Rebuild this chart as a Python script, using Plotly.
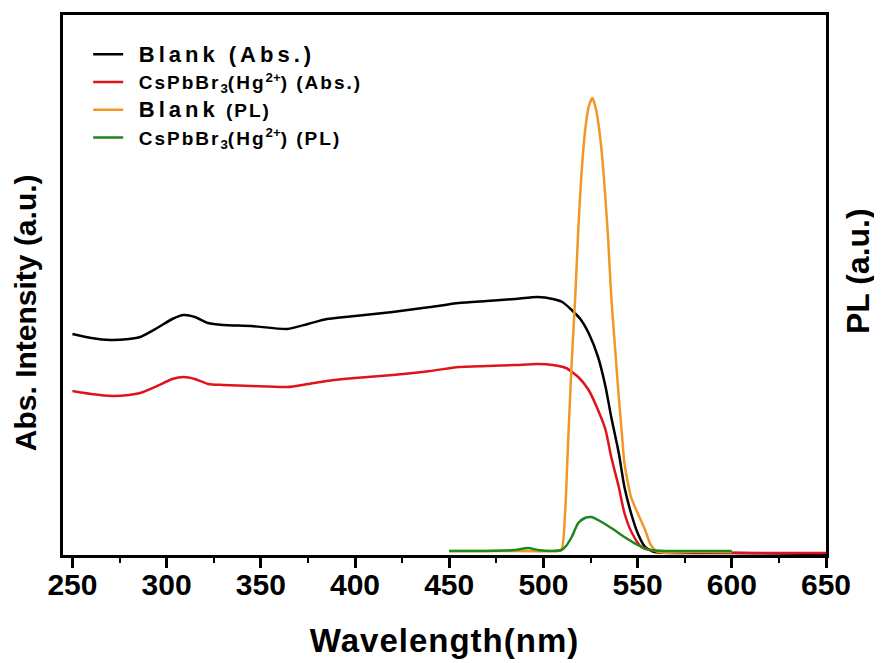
import plotly.graph_objects as go

# ---- data (arbitrary units) ----
abs_wl = [250, 260, 270, 280, 286, 295, 303, 309, 315, 322, 330, 345, 364, 375, 385, 400, 420,
          440, 455, 470, 485, 497, 505, 510, 515, 520, 524, 529, 533, 536, 540, 543, 546.5,
          550, 554, 559, 570, 600, 650]
blank_abs = [221, 217, 215, 216, 218, 227, 236, 240, 238, 232, 230, 229, 226, 231, 236, 239, 243,
             248, 252, 254, 256, 258, 256, 253, 245, 235, 222, 198, 168, 138, 102, 68, 42,
             22, 8, 3, 2, 2, 1]

red_wl = [250, 260, 271, 280, 286, 295, 303, 309, 315, 322, 330, 345, 364, 375, 385, 400, 420,
          440, 455, 470, 485, 497, 505, 512, 518.5, 524, 529, 533, 536, 540, 543, 547, 552,
          559, 570, 610, 650]
hg_abs = [164, 161, 159, 160, 162, 169, 176, 178, 176, 171, 170, 169, 168, 171, 174, 177, 180,
          184, 188, 189, 190, 191, 190, 187, 178, 165, 145, 125, 98, 68, 42, 22, 8,
          4, 3, 2, 2]

pl_wl = [450, 480, 505, 509.5, 511.5, 513, 515, 517, 518.5, 520, 522, 524, 526, 528, 530.7,
         532.6, 534.4, 536, 538, 540, 541.5, 543, 546.5, 550, 554, 557, 561, 580, 600]
blank_pl = [4, 4, 4, 5, 42, 108, 192, 262, 325, 375, 422, 448, 457, 445, 408,
            365, 315, 258, 208, 158, 125, 92, 58, 42, 25, 10, 3, 3, 3]

hg_wl = [450, 470, 485, 492, 497, 505, 509.5, 512, 515, 518.5, 522, 525.5, 529, 536, 543,
         550, 557, 565, 580, 600]
hg_pl = [4, 4, 5, 7, 5, 4, 5, 9, 18, 32, 37, 38, 35, 27, 18,
         10, 5, 4, 4, 4]

x_ticks = [250, 300, 350, 400, 450, 500, 550, 600, 650]

FONT = "Liberation Sans, Arial, sans-serif"
PAD = "\u00a0\u00a0"
BIG = "<span style='font-size:22px;letter-spacing:4px'>"
SMALL = "<span style='letter-spacing:2px'>"

fig = go.Figure()
fig.add_trace(go.Scatter(x=abs_wl, y=blank_abs, mode="lines", line=dict(color="black", width=2.5, shape="spline", smoothing=0.6),
                         name=PAD + "<b>" + BIG + "Blank (Abs.)</span></b>"))
fig.add_trace(go.Scatter(x=red_wl, y=hg_abs, mode="lines", line=dict(color="rgb(222,20,28)", width=2.5, shape="spline", smoothing=0.6),
                         name=PAD + "<b>" + SMALL + "CsPbBr</span><sub>3</sub>" + SMALL + "(Hg</span><sup>2+</sup>" + SMALL + ") (Abs.)</span></b>"))
fig.add_trace(go.Scatter(x=pl_wl, y=blank_pl, mode="lines", line=dict(color="rgb(242,150,40)", width=2.5, shape="spline", smoothing=0.6),
                         name=PAD + "<b>" + BIG + "Blank</span>" + SMALL + " (PL)</span></b>", yaxis="y2"))
fig.add_trace(go.Scatter(x=hg_wl, y=hg_pl, mode="lines", line=dict(color="rgb(30,135,30)", width=2.5, shape="spline", smoothing=0.6),
                         name=PAD + "<b>" + SMALL + "CsPbBr</span><sub>3</sub>" + SMALL + "(Hg</span><sup>2+</sup>" + SMALL + ") (PL)</span></b>", yaxis="y2"))

# page body has an 8px default margin, so the figure is 8px smaller and margins are offset
fig.update_layout(
    width=874, height=655,
    margin=dict(l=55, r=56, t=7, b=108),
    paper_bgcolor="white", plot_bgcolor="white",
    font=dict(family=FONT, color="black"),
    showlegend=True,
    legend=dict(x=0.033, y=0.962, xanchor="left", yanchor="top",
                font=dict(size=19, family=FONT, color="black"),
                bgcolor="rgba(0,0,0,0)", borderwidth=0, tracegroupgap=0),
    xaxis=dict(range=[245, 650], tickvals=x_ticks, ticktext=[str(v) for v in x_ticks],
               automargin=False,
               ticks="outside", ticklen=10, tickwidth=2.5, tickcolor="black",
               ticklabelstandoff=-9,
               minor=dict(dtick=25, tick0=250, ticks="outside", ticklen=5, tickwidth=2, tickcolor="black"),
               showline=True, linewidth=3, linecolor="black", mirror=True,
               showgrid=False, zeroline=False,
               tickfont=dict(size=30, family=FONT, color="black", weight="bold"),
               title=dict(text="<b><span style='letter-spacing:1px'>Wavelength(nm)</span></b>",
                          font=dict(size=33, family=FONT, color="black"), standoff=29)),
    yaxis=dict(range=[0, 540], showticklabels=False, ticks="", showgrid=False, zeroline=False,
               automargin=False,
               showline=True, linewidth=3, linecolor="black", mirror=True),
    yaxis2=dict(range=[0, 540], overlaying="y", side="right", showticklabels=False, ticks="",
                automargin=False,
                showgrid=False, zeroline=False, showline=False),
    annotations=[
        dict(text="<b>Abs. Intensity (a.u.)</b>", textangle=-90, xref="paper", yref="paper",
             x=-0.0497, y=0.448, xanchor="center", yanchor="middle", showarrow=False,
             font=dict(size=30, family=FONT, color="black")),
        dict(text="<b>PL (a.u.)</b>", textangle=-90, xref="paper", yref="paper",
             x=1.042, y=0.526, xanchor="center", yanchor="middle", showarrow=False,
             font=dict(size=32, family=FONT, color="black")),
    ],
)

fig.write_html("out.html")
